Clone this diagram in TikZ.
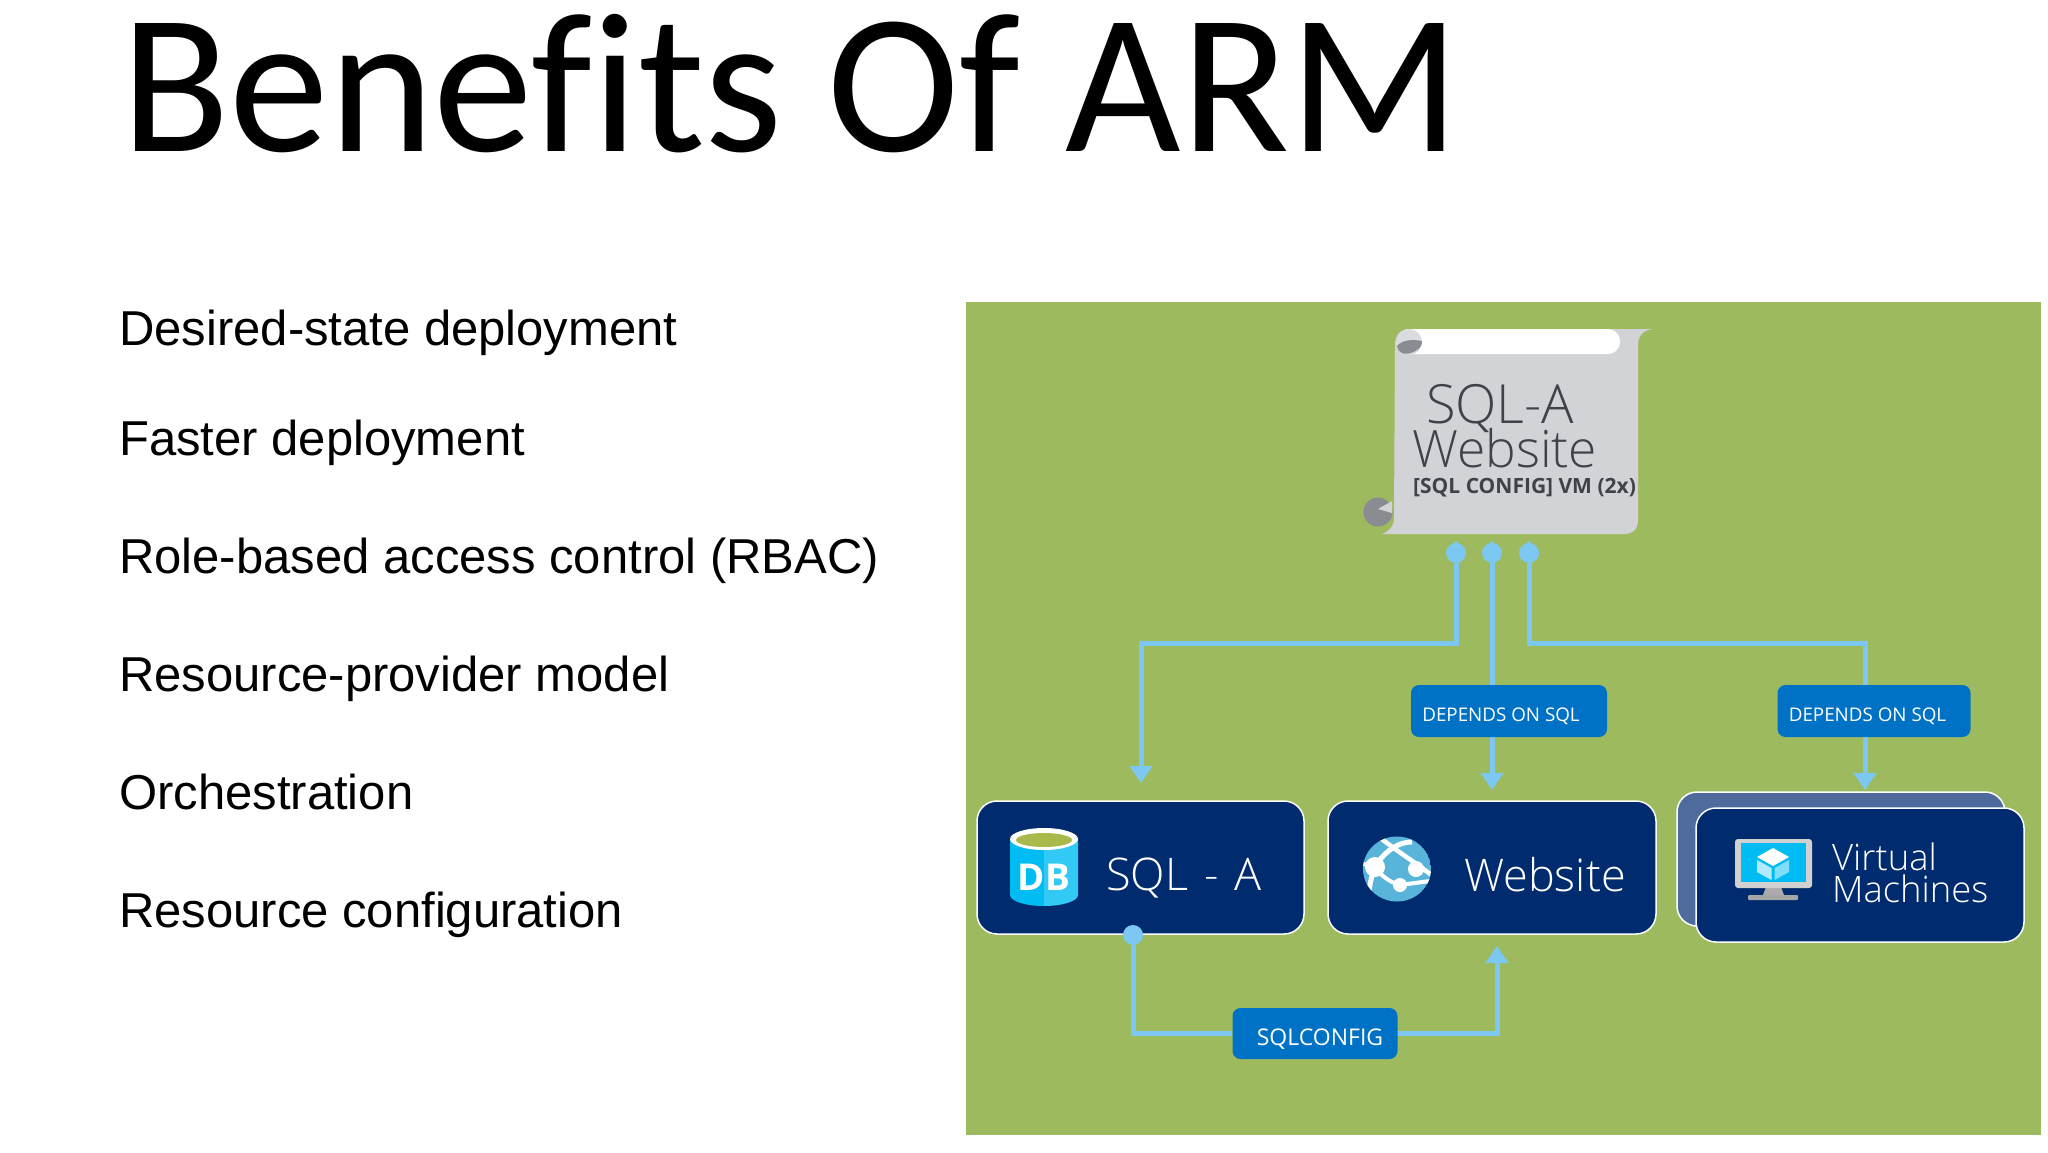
\documentclass[tikz,border=0pt]{standalone}
\usepackage{fontspec}
\setmainfont{Liberation Sans}
\newfontfamily\titlefont[Ligatures=NoCommon]{Carlito}
\newfontfamily\boxfont{Open Sans}
\newfontfamily\lightfont{Open Sans Light}
\usetikzlibrary{arrows.meta}

\definecolor{panelgreen}{HTML}{9DBB5E}
\definecolor{flowblue}{HTML}{7CC8F2}
\definecolor{tagblue}{HTML}{0072C6}
\definecolor{boxnavy}{HTML}{002B6E}
\definecolor{backnavy}{HTML}{4F6A9C}
\definecolor{scrollgray}{HTML}{D2D3D7}
\definecolor{curlgray}{HTML}{8A8C91}
\definecolor{inkgray}{HTML}{3F4247}
\definecolor{skyblue}{HTML}{00BCF2}
\definecolor{dbolive}{HTML}{A9B94C}
\definecolor{globeblue}{HTML}{59B4D9}

\tikzset{
    listitem/.style={anchor=base west, inner sep=0pt, font=\fontsize{49}{49}\selectfont},
    flow/.style={draw=flowblue, line width=5pt},
    flowarrow/.style={flow, -{Triangle[length=17pt, width=22pt]}},
    port/.style={circle, fill=flowblue, inner sep=0pt, minimum size=20pt},
    tag/.style={rounded corners=8pt, fill=tagblue, text=white, inner sep=0pt, text height=20pt, text depth=0pt, font=\boxfont\fontsize{18.8}{18.8}\selectfont},
    resource/.style={rounded corners=20pt, draw=white, line width=1.5pt, fill=boxnavy, inner sep=0pt},
    boxlabel/.style={anchor=base west, inner sep=0pt, text=white, font=\lightfont\fontsize{45}{45}\selectfont},
    scrolllabel/.style={anchor=base west, inner sep=0pt, text=inkgray, font=\lightfont\fontsize{52}{52}\selectfont}
}

\begin{document}
\begin{tikzpicture}[x=1pt, y=-1pt]

\path[use as bounding box] (0,0) rectangle (2048,1152);

\node[anchor=base west, inner sep=0pt, font=\titlefont\fontsize{199.5}{199.5}\selectfont] (title) at (121,151) {Benefits Of ARM};

\foreach \i/\y/\t in {1/345/Desired-state deployment, 2/455/Faster deployment, 3/573/Role-based access control (RBAC), 4/691/Resource-provider model, 5/809/Orchestration, 6/927/Resource configuration} {
    \node[listitem] (item\i) at (119,\y) {\t};
}

\fill[panelgreen] (966,302) rectangle (2041,1135);

\fill[scrollgray] (1395,345) .. controls (1395,335) and (1400,329) .. (1410,329) -- (1652,329)
    .. controls (1642,331) and (1638,336) .. (1638,346) -- (1638,520)
    .. controls (1638,529) and (1633,534) .. (1624,534) -- (1382,534)
    .. controls (1390,531) and (1394,526) .. (1394,518) -- cycle;
\fill[white, rounded corners=12pt] (1397,329) rectangle (1620,354);
\fill[scrollgray!80!white] (1409,342) circle[radius=13pt];
\fill[curlgray] (1397,346) .. controls (1402,340) and (1412,339) .. (1422,341) .. controls (1423,350) and (1408,356) .. (1402,353) .. controls (1399,351) and (1397,349) .. (1397,346) -- cycle;
\fill[curlgray] (1378,512) circle[radius=14.5pt];
\fill[scrollgray] (1378,509) -- (1392,501) -- (1392,513) -- cycle;

\node[scrolllabel, font=\lightfont\fontsize{54}{54}\selectfont] (scroll1) at (1426,423) {SQL-A};
\node[scrolllabel, font=\lightfont\fontsize{51.5}{51.5}\selectfont] (scroll2) at (1412,467) {Website};
\node[anchor=base west, inner sep=0pt, text=inkgray, font=\boxfont\bfseries\fontsize{21}{21}\selectfont] (scroll3) at (1413,493) {[SQL CONFIG] VM (2x)};

\foreach \i/\x in {1/1456, 2/1492, 3/1529} {
    \node[port] (port\i) at (\x,553) {};
    \fill[flowblue] ([xshift=-4pt, yshift=-3pt]port\i.north) -- ([yshift=2pt]port\i.north) -- ([xshift=4pt, yshift=-3pt]port\i.north) -- cycle;
}
\coordinate (bend1) at (1141,643);
\coordinate (bend3) at (1865,643);
\coordinate (in1) at (1141,783);
\coordinate (in2) at (1492,790);
\coordinate (in3) at (1865,790);
\coordinate (in4) at (1497,946);

\draw[flowarrow] (port1) |- (bend1) -- (in1);
\draw[flowarrow] (port2) -- (in2);
\draw[flowarrow] (port3) |- (bend3) -- (in3);

\node[tag, minimum width=196pt, minimum height=52pt] (dep1) at (1509,711) {DEPENDS ON SQL\hspace{16pt}\null};
\node[tag, minimum width=193pt, minimum height=52pt] (dep2) at (1874,711) {DEPENDS ON SQL\hspace{13pt}\null};

\node[resource, minimum width=327pt, minimum height=133pt] (sqla) at (1140.5,867.5) {};
\node[resource, minimum width=328pt, minimum height=133pt] (web) at (1492,867.5) {};
\node[resource, fill=backnavy, minimum width=328pt, minimum height=134pt] (vmback) at (1841,859) {};
\node[resource, minimum width=328pt, minimum height=134pt] (vm) at (1860,875) {};

\node[port] (port4) at (1133,935) {};
\node[tag, minimum width=165pt, minimum height=51pt, text height=23pt, font=\boxfont\fontsize{23}{23}\selectfont] (cfg) at (1315,1033.5) {\hspace{10pt}SQLCONFIG};
\draw[flow] (port4) |- (cfg);
\draw[flowarrow] (cfg) -| (in4);

\node[boxlabel] (sqlatext) at (1106,890) {SQL\hspace{5pt} - \hspace{3pt}A};
\node[boxlabel] (webtext) at (1464,891) {Website};
\node[boxlabel, font=\lightfont\fontsize{36.4}{36.4}\selectfont] (vmtext1) at (1832,870) {Virtual};
\node[boxlabel, font=\lightfont\fontsize{36.4}{36.4}\selectfont] (vmtext2) at (1832,902) {Machines};

\fill[skyblue] (1010,839) -- (1010,895) arc[start angle=180, end angle=90, x radius=34, y radius=11] -- (1044,839) -- cycle;
\fill[skyblue!80!white] (1078,839) -- (1078,895) arc[start angle=0, end angle=90, x radius=34, y radius=11] -- (1044,839) -- cycle;
\fill[white] (1044,839) ellipse[x radius=34, y radius=11];
\fill[dbolive] (1044,840) ellipse[x radius=28, y radius=7];
\node[inner sep=0pt, text=white, font=\boxfont\bfseries\fontsize{37}{37}\selectfont] (dbtext) at (1044,877) {DB};

\begin{scope}
    \clip (1397,869) ellipse[x radius=34, y radius=32.5];
    \fill[globeblue] (1397,869) ellipse[x radius=34, y radius=32.5];
    \draw[white, line width=4.5pt] (1378,836) .. controls (1395,850) and (1415,862) .. (1434,877);
    \draw[white, line width=5pt] (1412,842) .. controls (1395,842) and (1382,855) .. (1375,867) .. controls (1371,877) and (1369,888) .. (1368,900);
    \draw[white, line width=4pt] (1375,867) .. controls (1382,877) and (1390,882) .. (1400,885) -- (1430,881);
    \draw[white, line width=4pt] (1375,867) -- (1360,863);
    \fill[white] (1375,867) circle[radius=10pt];
    \fill[white] (1416,869) circle[radius=8pt];
    \fill[white] (1400,885) circle[radius=7pt];
\end{scope}

\fill[black!35, rounded corners=1pt] (1748,895) rectangle (1798,900);
\fill[black!33] (1766,887) -- (1781,887) -- (1784,895) -- (1763,895) -- cycle;
\fill[black!18, rounded corners=3pt] (1735,839) rectangle (1812,888);
\fill[skyblue] (1741,843) rectangle (1806,882);
\fill[white] (1773,848) -- (1789,857) -- (1773,866) -- (1757,857) -- cycle;
\fill[skyblue!30!white] (1757,860) -- (1771.5,868) -- (1771.5,880) -- (1757,872) -- cycle;
\fill[skyblue!50!white] (1789,860) -- (1774.5,868) -- (1774.5,880) -- (1789,872) -- cycle;

\end{tikzpicture}
\end{document}
